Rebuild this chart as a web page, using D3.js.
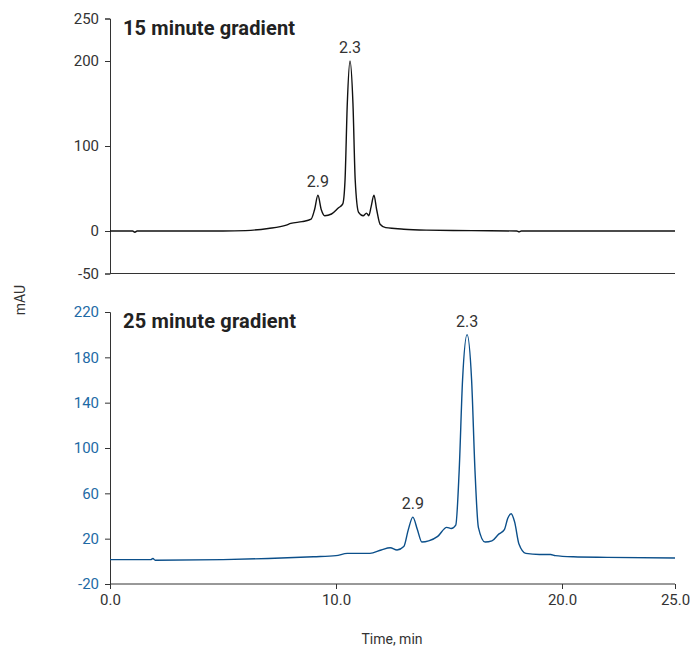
<!DOCTYPE html>
<html><head><meta charset="utf-8">
<script src="https://cdn.jsdelivr.net/npm/d3@7"></script>
<style>body{margin:0;background:#fff;font-family:Roboto,"Liberation Sans",sans-serif}</style>
</head><body><svg id="chart" width="692" height="650"></svg>
<script>
// 15 minute gradient trace (time in min, absorbance in mAU)
const topTime = [0,1.0,1.1,1.2,5,6,7,7.8,8.0,8.5,8.9,9.05,9.2,9.35,9.5,9.8,10.1,10.3,10.4,10.5,10.62,10.75,10.85,11.0,11.2,11.35,11.45,11.55,11.68,11.8,11.95,12.2,12.6,13,14,16,18,18.1,18.2,25]
const topValue = [0,0,-1.5,0,0,0.5,3,7,9,11,14,25,42,25,18,20,27,32,60,150,200,150,60,22,18,21,18,28,42,25,8,4,3,2,1,0.5,0,-1,0,0]
// 25 minute gradient trace
const botTime = [0,1.8,1.9,2.0,5,7,9,10,10.5,11.5,12,12.4,12.7,13.0,13.2,13.4,13.6,13.8,14.1,14.5,14.9,15.1,15.3,15.45,15.6,15.8,16.0,16.15,16.3,16.6,16.9,17.2,17.45,17.6,17.75,17.9,18.1,18.4,19,19.5,19.7,20.5,22,25]
const botValue = [1.5,1.5,2.5,1,1.5,2.5,4,5,7,7,10,12,10,13,28,39,28,17,18,22,30,29,32,80,160,200,160,80,30,17,18,24,28,38,42,35,15,7,6,6,5,4,3.5,3]
const topTicks = [-50,0,100,200,250]
const botTicks = [-20,20,60,100,140,180,220]
const xTicks = [0,10,20,25]
const labels = [
  {panel: "top", t: 9.2, v: 42, text: "2.9"},
  {panel: "top", t: 10.62, v: 200, text: "2.3"},
  {panel: "bot", t: 13.4, v: 39, text: "2.9"},
  {panel: "bot", t: 15.8, v: 200, text: "2.3"}
]

const svg = d3.select("#chart")
const x = d3.scaleLinear().domain([0, 25]).range([110, 675])
const yTop = d3.scaleLinear().domain([-50, 250]).range([273.5, 18.5])
const yBot = d3.scaleLinear().domain([-20, 220]).range([584, 312])

function panel(y, ticks, times, values, color, tickColor, title, key) {
  const g = svg.append("g")
  const ax = g.append("g").attr("transform", "translate(110,0)")
    .call(d3.axisLeft(y).tickValues(ticks).tickFormat(d => String(d)).tickSize(5).tickPadding(6))
  ax.select(".domain").attr("stroke", "#333")
  ax.selectAll(".tick line").attr("stroke", "#333")
  ax.selectAll("text").attr("fill", tickColor).style("font-size", "15px").style("font-family", "Roboto")
  // bottom border of the panel
  g.append("line").attr("x1", 110).attr("x2", 675)
    .attr("y1", y.range()[0]).attr("y2", y.range()[0]).attr("stroke", "#333")
  const line = d3.line().x((d, i) => x(times[i])).y(d => y(d)).curve(d3.curveMonotoneX)
  g.append("path").datum(values).attr("d", line)
    .attr("fill", "none").attr("stroke", color).attr("stroke-width", 1.4)
  g.append("text").attr("x", 123).attr("y", y.range()[1] + 16)
    .attr("font-weight", "bold").attr("font-size", 20).attr("fill", "#222")
    .attr("textLength", key === "top" ? 172 : 173)
    .text(title)
  labels.filter(l => l.panel === key).forEach(l => {
    g.append("text").attr("x", x(l.t)).attr("y", y(l.v) - 8)
      .attr("text-anchor", "middle").attr("font-size", 16).attr("fill", "#333").text(l.text)
  })
}

panel(yTop, topTicks, topTime, topValue, "#111", "#333", "15 minute gradient", "top")
panel(yBot, botTicks, botTime, botValue, "#0b4f8a", "#1d6aa5", "25 minute gradient", "bot")

const xa = svg.append("g").attr("transform", "translate(0,584)")
  .call(d3.axisBottom(x).tickValues(xTicks).tickFormat(d3.format(".1f")).tickSize(5).tickPadding(5))
xa.select(".domain").remove()
xa.selectAll(".tick line").attr("stroke", "#333")
xa.selectAll("text").attr("fill", "#333").style("font-size", "15px").style("font-family", "Roboto")

svg.append("text").attr("x", 392).attr("y", 644).attr("text-anchor", "middle")
  .attr("font-size", 14).attr("fill", "#333").text("Time, min")
svg.append("text").attr("transform", "translate(25,300) rotate(-90)").attr("text-anchor", "middle")
  .attr("font-size", 14).attr("fill", "#333").text("mAU")
</script></body></html>
